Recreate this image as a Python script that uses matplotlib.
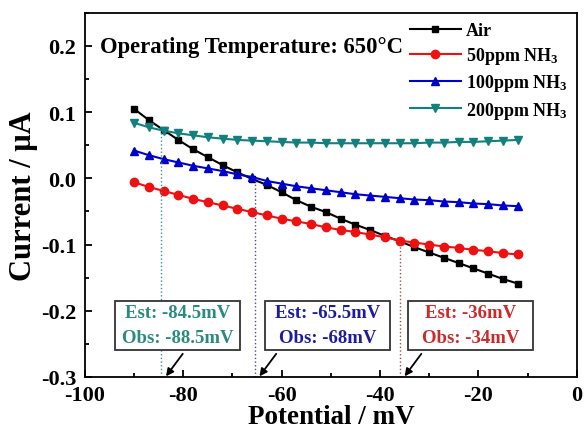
import numpy as np
import matplotlib.pyplot as plt
from matplotlib.ticker import MultipleLocator

plt.rcParams['font.family'] = ['Liberation Serif', 'DejaVu Serif']
plt.rcParams['font.weight'] = 'bold'
plt.rcParams['axes.labelweight'] = 'bold'
plt.rcParams['mathtext.fontset'] = 'custom'
plt.rcParams['mathtext.rm'] = 'Liberation Serif:bold'
plt.rcParams['mathtext.it'] = 'Liberation Serif:bold'
plt.rcParams['mathtext.bf'] = 'Liberation Serif:bold'

# potential (mV)
potential = np.arange(-90, -11, 3)

air = [0.105, 0.088, 0.073, 0.058, 0.044, 0.032, 0.020, 0.009, -0.001, -0.010,
       -0.021, -0.033, -0.043, -0.051, -0.061, -0.070, -0.078, -0.087, -0.095,
       -0.104, -0.112, -0.120, -0.128, -0.136, -0.144, -0.152, -0.159]
nh3_50 = [-0.006, -0.013, -0.019, -0.025, -0.031, -0.036, -0.041, -0.046, -0.051,
          -0.056, -0.061, -0.065, -0.069, -0.074, -0.078, -0.081, -0.085, -0.089,
          -0.094, -0.097, -0.100, -0.103, -0.105, -0.108, -0.110, -0.113, -0.115]
nh3_100 = [0.042, 0.035, 0.029, 0.024, 0.019, 0.015, 0.011, 0.006, 0.002, -0.004,
           -0.008, -0.012, -0.015, -0.018, -0.021, -0.024, -0.026, -0.028, -0.030,
           -0.032, -0.033, -0.035, -0.036, -0.038, -0.039, -0.041, -0.042]
nh3_200 = [0.084, 0.077, 0.072, 0.068, 0.065, 0.062, 0.060, 0.058, 0.057, 0.056,
           0.055, 0.054, 0.054, 0.053, 0.053, 0.053, 0.053, 0.053, 0.053, 0.053,
           0.054, 0.054, 0.055, 0.055, 0.056, 0.057, 0.058]

# crossing points: estimated potential, current at crossing, box labels
cross_x = [-84.5, -65.5, -36]
cross_y = [0.072, 0.0, -0.095]
est_labels = ['Est: -84.5mV', 'Est: -65.5mV', 'Est: -36mV']
obs_labels = ['Obs: -88.5mV', 'Obs: -68mV', 'Obs: -34mV']
box_colors = ['#2a8a80', '#1c1c9c', '#cc2a2a']
line_colors = ['#3f8f8f', '#4a4a9a', '#a05050']
box_left = [-93.9, -63.4, -34.3]
box_right = [-68.5, -38.0, -8.9]

fig = plt.figure(figsize=(5.85, 4.31), dpi=100)
ax = fig.add_axes([0.145, 0.123, 0.841, 0.845])

ax.plot(potential, air, '-s', color='black', ms=5, lw=1.5, label='Air')
ax.plot(potential, nh3_50, '-o', color='#ee1111', ms=6, lw=1.5, label='50ppm NH$_3$')
ax.plot(potential, nh3_100, '-^', color='#0000cc', ms=6, lw=1.5, label='100ppm NH$_3$')
ax.plot(potential, nh3_200, '-v', color='#138080', ms=6, lw=1.5, label='200ppm NH$_3$')

for i in range(3):
    ax.plot([cross_x[i], cross_x[i]], [-0.3, cross_y[i]], ls=':', lw=1,
            color=line_colors[i])
    ax.add_patch(plt.Rectangle((box_left[i], -0.259), box_right[i] - box_left[i], 0.074,
                               fill=True, facecolor='white', edgecolor='#333333',
                               lw=1.3, zorder=4))
    xc = (box_left[i] + box_right[i]) / 2
    ax.text(xc, -0.203, est_labels[i], color=box_colors[i], fontsize=13.5,
            ha='center', va='center', zorder=5)
    ax.text(xc, -0.240, obs_labels[i], color=box_colors[i], fontsize=13.5,
            ha='center', va='center', zorder=5)
    ax.annotate('', xy=(cross_x[i] + 1.0, -0.299), xytext=(cross_x[i] + 4.4, -0.265),
                arrowprops=dict(arrowstyle='-|>', color='black', lw=1.3,
                                mutation_scale=11, shrinkA=0, shrinkB=0))

ax.text(-97, 0.199, 'Operating Temperature: 650°C', fontsize=16.3, ha='left', va='center')

ax.set_xlim(-100, 0)
ax.set_ylim(-0.3, 0.25)
ax.xaxis.set_minor_locator(MultipleLocator(10))
ax.yaxis.set_minor_locator(MultipleLocator(0.05))
ax.set_yticks([-0.3, -0.2, -0.1, 0.0, 0.1, 0.2])
ax.set_yticklabels(['-0.3', '-0.2', '-0.1', '0.0', '0.1', '0.2'])
ax.set_xticks([-100, -80, -60, -40, -20, 0])
ax.set_xticklabels(['-100', '-80', '-60', '-40', '-20', '0'])
ax.tick_params(which='both', direction='in', top=False, right=False, width=1.3)
ax.tick_params(which='major', length=5, labelsize=16)
ax.tick_params(axis='x', which='major', pad=6)
ax.tick_params(axis='y', which='major', pad=6)
ax.tick_params(which='minor', length=3)
for s in ax.spines.values():
    s.set_linewidth(1.3)

ax.set_xlabel('Potential / mV', fontsize=19.5, labelpad=-1)
ax.set_ylabel('Current / μA', fontsize=22, labelpad=2)

ax.legend(loc='upper right', frameon=False, fontsize=13, handlelength=2.8,
          labelspacing=0.35, borderaxespad=0.1, handletextpad=0.3)

fig.savefig('out.png', dpi=100)
